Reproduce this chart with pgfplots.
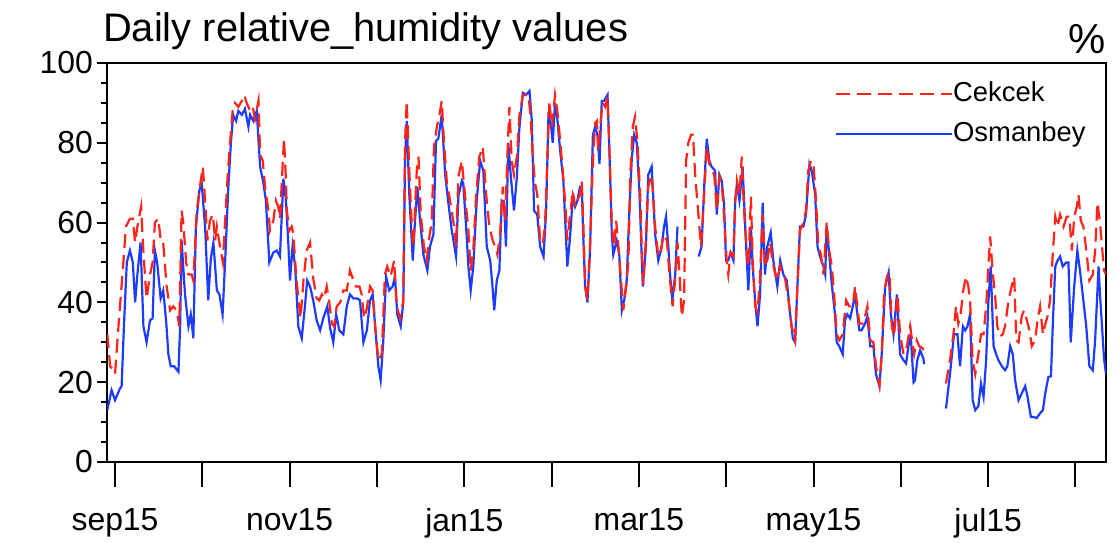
\documentclass[border=0pt]{standalone}
\usepackage{fontspec}
\setmainfont{Liberation Sans}
\usepackage{pgfplots}
\usepackage{pgfplotstable}
\pgfplotsset{compat=1.18}
\definecolor{ncred}{RGB}{255,35,25}
\definecolor{ncblue}{RGB}{30,60,255}

% Cekcek (day index from 1 Sep, relative humidity %)
\pgfplotstableread{
d v
-2.7 32
-1.7 24
-0.6 23
0.0 22
1.2 34
2.9 50
3.8 59
5.2 61
6.2 61
7.0 55
7.8 59
9.1 64
9.7 55
10.5 46
11.0 41
12.2 47
13.1 50
13.9 60
15.1 61
16.0 55
16.8 55
18.0 44
19.2 38
20.3 39
21.5 38
22.4 34
23.2 63
23.8 60
24.8 50
25.6 47
26.7 47
27.3 45.5
28.5 63
29.6 69
30.6 74
31.4 65.5
32.2 55.5
33.1 60.5
34.1 62
34.9 55.5
35.5 59
36.6 54
37.6 50
38.4 60.5
39.2 71
40.1 80
41.0 88
41.8 90
43.0 89
44.2 90.5
45.0 92
45.9 90
47.1 88
48.0 89
48.8 86
50.0 90.5
50.6 77
51.5 75.5
52.3 69
53.5 63
54.0 58
55.2 60.5
56.1 65.5
56.9 64
57.5 61
58.9 81
59.5 72
59.9 63
60.8 58
61.6 59
62.2 57
63.1 47
63.9 41
64.7 36
65.7 45.5
66.8 53
68.0 55
69.1 46
70.3 41
71.2 40.5
72.1 42
72.9 41
73.8 44
74.7 40
75.6 34.7
76.4 34
77.3 39
78.5 40
79.6 43
80.8 43
81.9 48
82.9 46
84.0 44
85.2 44
86.0 42
86.8 36
87.8 38.5
88.9 44
89.8 43
90.7 34
91.8 25.5
93.0 27
94.1 47
94.9 49
96.1 46.5
97.3 50.5
98.2 39
99.4 36
100.5 40.5
101.1 80
101.7 90.5
102.6 73
103.4 60
104.0 54
105.2 73
105.8 76.5
106.6 62
107.7 54
108.7 50.5
109.6 56.5
110.4 60
111.2 79
112.2 84
113.1 87
113.9 90.5
114.7 80
115.7 70
116.8 65.5
118.0 60
118.9 54
119.7 71.5
120.9 75.5
122.0 67
123.2 58
124.0 48
124.9 53
125.9 67
127.0 76.5
128.2 79
129.4 67
130.5 59
131.7 55.5
132.5 54
133.3 52
134.2 56.5
135.2 69
136.0 60.5
136.8 77
137.5 89
138.3 75.5
139.1 72
140.1 76.5
141.0 87
142.2 92
143.3 92
144.1 92
144.9 86.5
145.6 77
146.4 70
147.2 67
148.2 55.5
149.1 54.5
149.9 59
150.7 75.5
151.4 90.5
152.3 84
153.4 92
154.2 88
155.2 80.5
156.1 73
156.9 65.5
157.7 55.5
158.6 61.5
159.6 68
160.4 64
161.2 65.5
162.1 67
162.7 70.5
163.3 59
163.9 44
164.7 40.5
165.6 54
166.6 75.5
167.4 85
168.0 85.5
168.5 78
169.1 84
170.0 90
170.9 89
171.7 91.5
172.4 78
173.2 59
174.0 54
174.7 60.5
175.5 54
176.3 46.5
177.2 38
178.2 44
179.0 50.5
179.6 71.5
180.5 84
181.3 86.5
182.1 80.5
183.1 67
183.6 54
184.2 44.5
185.1 56.5
185.9 69
187.1 72
188.3 59
189.4 51.5
190.3 53
191.2 57
192.4 55.5
193.3 47
194.4 39
195.3 46
196.1 55
196.8 47
197.6 36.5
198.4 40.5
199.1 75.5
199.9 80
200.8 82
201.5 82
202.3 71.5
203.5 61
204.3 54
205.4 67
206.3 79
207.2 74.7
208.1 73
208.9 72
209.8 63
210.7 71.5
211.5 70
212.3 62
213.3 50
213.8 47
214.6 52.5
215.6 51.5
216.2 65
216.8 70.5
217.7 67
218.5 76.5
219.3 63
220.3 52
220.8 49
221.7 66.5
222.3 50.5
223.2 39
224.0 37.5
224.9 46.5
225.7 62
226.6 49
227.4 50.5
228.4 55
229.3 50
230.7 45.5
231.9 49
232.8 47
233.6 46
234.8 40.5
235.9 34
237.1 30.5
237.9 44
238.8 58
240.0 60
240.9 63
241.7 73
242.6 75.5
243.5 74.7
244.4 65.5
245.2 54
246.1 52
247.0 47
247.6 54
248.1 60
249.0 53
249.9 49
250.7 42
251.6 32
252.5 30.5
253.7 32
254.9 40.5
256.0 39
257.2 39
258.0 44
258.8 39
259.5 34.7
260.7 34.7
261.5 36.5
262.3 39
263.3 30.5
264.4 30
265.3 24
266.5 19.3
267.3 27
268.1 42
269.1 46.5
270.0 47.5
270.8 34
271.6 31.5
272.8 42
273.7 32
274.9 27
276.1 29
277.2 34
278.0 30
278.6 27
279.5 30.5
280.4 29
281.6 28.5
282.4 27
286.0 nan
289.7 19.7
291.1 25.5
292.3 32
293.2 39
294.0 34.7
294.8 37
295.7 43
296.7 46.5
297.5 44
298.1 40.5
299.0 25.5
299.9 22
301.0 27
301.9 32
302.8 32
303.7 39
304.5 49
305.1 56.5
306.0 47.5
306.8 42
307.6 34
308.6 31.5
309.5 32
310.3 34
311.5 40.5
312.6 44
313.5 46.5
314.2 30.5
315.0 30
316.1 36.5
316.9 38
317.9 35.5
318.8 33
319.6 29
320.8 30.5
321.6 35.5
322.5 39
323.5 32
324.3 34.5
325.1 36.5
326.0 40.5
327.0 53
327.8 61.5
328.6 59
329.5 62
330.7 59
331.8 61.5
332.7 61.5
333.6 53
334.4 61.5
335.3 64
335.9 67
336.7 60.5
337.6 59
338.8 52
339.7 45.5
340.9 47
341.7 53
342.5 65
343.4 60
344.8 48
345.5 47
}\cekcek

% Osmanbey
\pgfplotstableread{
d v
-2.7 13
-1.2 18
0.0 15.5
1.7 18.4
2.3 19
3.1 34
4.1 50
5.2 53
6.2 50
7.0 40
7.8 47
8.9 55
9.9 34
11.0 30
12.2 35.5
13.1 36
13.9 53
14.7 50
15.9 41
16.8 43
17.8 35.5
18.6 27
19.4 24
20.6 24
22.1 22.6
22.7 34
23.2 55.5
24.4 42
25.6 34
26.4 37
27.3 31
28.2 59
29.4 68
30.2 70
31.4 59
32.5 40.5
33.4 51
34.3 55
35.5 43
36.4 42
37.5 37
38.4 50.5
39.5 69
40.4 80
41.2 87
42.2 85.5
43.0 88
44.2 87
45.3 88.5
46.5 84
47.1 87
48.2 85.5
49.4 88
50.6 74
51.7 70
52.6 65.5
53.8 50
55.2 52.5
56.4 53
57.5 51.5
58.7 71
59.6 65.5
60.4 55
61.0 45.5
61.9 54
62.8 49
63.9 34
65.1 31
66.2 39
67.0 45.5
68.0 44
69.1 40.5
70.3 35.5
71.5 33
72.6 36
74.0 39
75.0 33.5
76.1 30
77.1 37
78.2 33
79.6 32
80.8 39
81.9 42
83.1 41
84.5 41
85.4 40.5
86.6 30
87.8 33
88.9 40.5
89.8 42
90.7 34
91.8 24
92.6 20.5
93.5 30
94.5 46.5
95.6 43
96.8 44
97.6 46.5
98.4 37
99.6 34
100.5 40
101.1 75.5
101.7 85.5
102.6 67
103.8 50.5
104.6 60.5
105.4 69
106.3 61
107.5 52
108.9 48
109.8 54
111.0 57
111.9 80.5
112.7 81
113.9 87
115.1 72
116.2 65
117.4 58
118.9 51.5
119.7 66.5
120.9 70.5
121.4 70
122.4 59
123.2 49
124.0 43
124.9 49
126.1 65.5
127.3 75.5
128.4 73
129.6 54
130.8 50.5
131.6 44
132.2 38
133.1 45.5
134.0 48
134.8 65.5
135.6 65
136.3 54
137.1 80
138.0 71.5
139.1 63
140.1 71.5
141.0 84
142.2 92.5
143.3 92
144.5 93
145.3 85.5
146.1 63
147.2 62
148.2 54
149.4 51.5
150.3 63
151.1 86.5
151.9 85
152.6 80
153.4 90
154.2 86
155.2 78
156.3 70.5
157.2 56.5
157.7 49
158.6 56
159.6 66.5
160.4 64
161.2 65.5
162.1 69
162.7 69
163.3 55.5
163.9 44
164.7 40
165.6 53
166.6 82
167.4 84
168.2 82
168.9 74.7
169.7 90.5
170.5 90.5
171.7 92
172.4 77
173.2 57
173.7 52
174.9 55.5
175.8 52
176.7 38
177.5 40.5
178.4 45.5
179.3 63
180.2 76.5
181.0 82
181.9 80
182.8 68
184.0 44
185.1 54
185.9 72
187.1 74
188.3 57
189.4 50.5
190.6 54
191.4 59
192.1 61.5
192.9 54
193.5 47
194.3 40.5
195.3 47
196.1 59
200.0 nan
203.5 51.5
204.5 54
205.4 69
206.3 81
207.2 75.5
208.0 74
209.2 73
209.8 62
210.7 72
211.5 70.5
212.3 65
213.0 50.5
213.8 50.5
214.6 52.5
215.6 50.5
216.2 65.5
216.8 69.5
217.7 65.5
218.8 74
219.7 59
220.8 43
221.7 59
222.3 49
223.2 40
224.0 34
224.9 42
225.8 65
226.6 47
227.4 54
228.6 57.5
229.5 50.5
230.9 44
231.9 50.5
233.0 47
234.2 45.5
235.3 37.5
236.3 31
237.1 30
237.9 44
238.8 59
240.0 59
240.9 62
242.1 74.7
242.9 73
244.1 67
244.9 54
245.8 51.5
247.0 49
247.6 47
248.1 59
249.0 52
249.9 44.5
251.0 37
251.6 30
252.5 29
253.7 27
254.5 35.5
255.3 37
256.3 36
257.2 39
258.0 42
258.8 37
259.5 33
260.3 33
261.5 34.7
262.3 36.5
263.3 29
264.4 29
265.3 22
266.5 19
267.3 27
268.5 44
269.7 47.5
270.5 37
271.4 32
272.6 42
273.7 27
274.9 25.5
275.8 24.7
276.6 29
277.4 32
278.4 20
278.9 20.5
279.7 25.5
280.7 28
281.8 26
282.1 24.5
286.0 nan
289.7 13.4
291.1 22
292.5 32
293.7 32
294.6 24
295.6 34
296.4 33
297.2 34
298.1 37
299.0 15.5
299.9 13
301.0 14
301.9 19.7
302.8 16.3
303.7 25.5
304.5 40.5
305.3 49
306.3 29
307.2 27
308.0 25.5
309.2 24
310.3 23
311.1 24
312.1 29
313.0 27
313.8 20.5
315.0 15.5
316.1 17.2
317.3 19
318.1 16.5
319.3 11.3
320.2 11.3
321.3 11
322.5 12.2
323.5 13
324.3 17.2
325.4 21.3
326.3 21.5
327.0 35.5
327.8 49
328.6 50.5
329.5 51.5
330.4 49
331.6 50
332.4 50
333.2 30
334.4 44
335.5 53
336.5 47.5
337.6 40.5
338.6 34
339.7 24
340.9 23
341.7 30.5
342.9 49
343.4 42
344.8 26
345.5 22
}\osman

\begin{document}
\begin{tikzpicture}
\begin{axis}[
  scale only axis,
  width=999bp, height=399bp,
  xmin=-2.8, xmax=345.5, ymin=0, ymax=100,
  axis line style={line width=2.5bp},
  clip=true,
  xtick={0,30.44,60.88,91.32,121.76,152.2,182.64,213.08,243.52,273.96,304.4,334.84},
  xticklabels={sep15,,nov15,,jan15,,mar15,,may15,,jul15,},
  ytick={0,20,40,60,80,100},
  minor y tick num=3,
  tick align=outside,
  xtick pos=bottom, ytick pos=left,
  major tick length=10bp, minor tick length=6bp,
  x tick style={/pgfplots/major tick length=25bp},
  tick style={line width=2bp, black},
  /pgf/number format/assume math mode=true,
  ticklabel style={font=\fontsize{32}{36}\selectfont, inner sep=0pt},
  xticklabel style={yshift=-36bp},
  yticklabel style={xshift=-4bp},
  unbounded coords=jump,
  legend style={draw=none, fill=none, at={(rel axis cs:0.7257,0.96)}, anchor=north west,
    font=\fontsize{27.5}{30}\selectfont, row sep=14bp,
    nodes={inner sep=0pt, text height=20bp, text depth=6bp},
    /tikz/every even column/.append style={column sep=2bp}},
  legend cell align=left,
  legend image code/.code={\draw[#1] (0bp,0bp) -- (116bp,0bp);},
]
\addlegendimage{ncred, line width=2bp, dash pattern=on 14bp off 7bp}
\addlegendentry{Cekcek}
\addlegendimage{ncblue, line width=2bp}
\addlegendentry{Osmanbey}
\addplot[ncblue, line width=2.2bp, forget plot] table[x=d, y=v] {\osman};
\addplot[ncred, line width=2.2bp, dash pattern=on 14bp off 7bp, forget plot] table[x=d, y=v] {\cekcek};
\end{axis}
\node[anchor=base west, inner sep=0pt, font=\fontsize{40}{44}\selectfont]
  at ([shift={(-4bp,21bp)}]current axis.north west) {Daily relative\_humidity values};
\node[anchor=base east, inner sep=0pt, font=\fontsize{42}{46}\selectfont]
  at ([shift={(0bp,9bp)}]current axis.north east) {\%};
\pgfresetboundingbox
\path ([shift={(-107bp,-81bp)}]current axis.south west) rectangle ([shift={(1010bp,462bp)}]current axis.south west);
\end{tikzpicture}
\end{document}
